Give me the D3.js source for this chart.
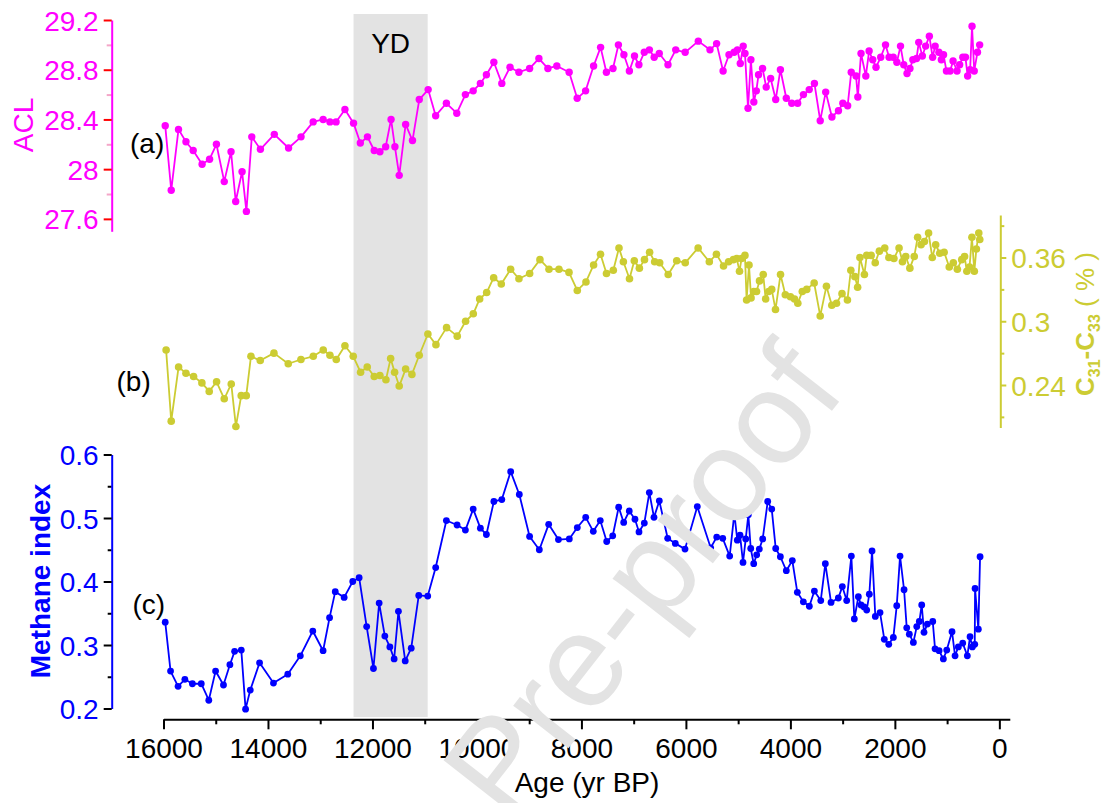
<!DOCTYPE html>
<html><head><meta charset="utf-8">
<script src="https://cdn.jsdelivr.net/npm/d3@7"></script>
<style>
html,body{margin:0;padding:0;background:#fff;}
svg text{font-family:Arial,"Liberation Sans",sans-serif;}
</style></head>
<body>
<svg id="chart" width="1112" height="803"></svg>
<script>
// ---------- DATA ----------
const aclAge = [15967,15852,15713,15570,15432,15261,15118,14987,14837,14707,14618,14496,14413,14310,14145,13879,13606,13367,13135,12944,12814,12697,12527,12362,12232,12096,11966,11857,11747,11644,11570,11488,11365,11234,11104,10934,10790,10585,10386,10221,10072,9934,9819,9676,9524,9367,9197,8992,8814,8642,8471,8235,8081,7920,7767,7633,7522,7396,7292,7187,7082,6984,6900,6797,6699,6607,6510,6343,6195,6014,5763,5539,5412,5288,5175,5077,5014,4959,4903,4869,4811,4756,4700,4652,4610,4533,4463,4378,4281,4191,4078,3974,3861,3750,3639,3540,3429,3324,3205,3080,2996,2904,2835,2743,2709,2648,2556,2493,2424,2361,2271,2179,2110,2031,1962,1892,1830,1767,1711,1656,1585,1543,1474,1411,1340,1277,1229,1158,1110,1068,1013,942,886,810,760,699,649,607,559,523,481,419,377];
const aclValue = [28.35,27.83,28.32,28.22,28.15,28.04,28.08,28.20,27.90,28.14,27.74,27.98,27.66,28.26,28.16,28.28,28.17,28.26,28.38,28.40,28.38,28.38,28.48,28.37,28.21,28.26,28.15,28.14,28.18,28.40,28.18,27.95,28.36,28.23,28.56,28.64,28.43,28.53,28.45,28.60,28.63,28.69,28.76,28.86,28.69,28.82,28.78,28.81,28.89,28.81,28.83,28.78,28.57,28.63,28.83,28.98,28.78,28.81,29.00,28.92,28.79,28.91,28.84,28.94,28.96,28.90,28.93,28.84,28.96,28.94,29.03,28.96,29.01,28.79,28.92,28.94,28.96,28.85,28.99,28.93,28.49,28.88,28.54,28.63,28.76,28.81,28.66,28.73,28.56,28.80,28.57,28.53,28.53,28.60,28.64,28.69,28.39,28.62,28.42,28.47,28.53,28.51,28.78,28.75,28.58,28.93,28.75,28.95,28.88,28.82,28.90,29.00,28.90,28.90,28.86,28.99,28.84,28.77,28.81,28.88,28.89,29.02,28.91,28.99,29.07,28.90,28.99,28.94,28.88,28.92,28.79,28.79,28.87,28.79,28.84,28.90,28.90,28.75,28.80,29.15,28.79,28.94,29.00];

const cAge = [15950,15852,15711,15570,15424,15265,15125,14984,14837,14703,14614,14512,14416,14326,14148,13886,13612,13369,13133,12942,12814,12693,12527,12368,12227,12100,11966,11857,11742,11652,11576,11488,11365,11245,11105,10939,10785,10581,10377,10217,10070,9948,9814,9680,9534,9355,9196,8991,8794,8621,8430,8238,8079,7913,7767,7635,7520,7390,7281,7197,7080,6988,6891,6793,6695,6598,6502,6339,6176,6013,5766,5552,5416,5280,5183,5091,5026,4974,4935,4870,4838,4792,4753,4702,4648,4591,4520,4474,4415,4357,4285,4189,4097,3999,3921,3858,3772,3687,3545,3429,3310,3207,3117,3012,2908,2843,2765,2713,2669,2583,2539,2454,2376,2297,2194,2115,2018,1920,1855,1792,1713,1629,1564,1499,1434,1355,1284,1219,1141,1057,959,881,804,720,666,622,571,525,479,440,394,375];
const cValue = [0.273,0.206,0.257,0.251,0.248,0.242,0.234,0.243,0.227,0.241,0.201,0.230,0.230,0.267,0.263,0.270,0.260,0.264,0.267,0.273,0.268,0.264,0.277,0.267,0.252,0.257,0.248,0.249,0.245,0.265,0.252,0.239,0.255,0.250,0.268,0.288,0.278,0.294,0.286,0.300,0.307,0.321,0.327,0.341,0.335,0.349,0.340,0.345,0.358,0.349,0.349,0.346,0.329,0.337,0.353,0.363,0.345,0.348,0.369,0.356,0.340,0.357,0.350,0.358,0.365,0.356,0.355,0.344,0.357,0.355,0.369,0.356,0.363,0.352,0.356,0.358,0.359,0.347,0.359,0.362,0.320,0.353,0.322,0.328,0.328,0.338,0.344,0.321,0.328,0.330,0.311,0.344,0.325,0.323,0.321,0.317,0.328,0.330,0.336,0.305,0.333,0.315,0.317,0.326,0.320,0.348,0.342,0.332,0.360,0.344,0.362,0.362,0.355,0.366,0.369,0.360,0.359,0.369,0.356,0.361,0.350,0.361,0.379,0.372,0.375,0.383,0.360,0.372,0.364,0.365,0.351,0.355,0.349,0.358,0.361,0.347,0.351,0.379,0.347,0.368,0.383,0.377];

const mAge = [15967,15865,15721,15591,15447,15277,15133,15003,14852,14729,14639,14511,14429,14339,14161,13895,13621,13381,13142,12945,12821,12712,12542,12377,12255,12111,11981,11872,11763,11667,11585,11503,11373,11258,11114,10942,10790,10585,10380,10221,10072,9934,9819,9676,9524,9354,9189,8992,8806,8627,8440,8232,8079,7918,7773,7639,7516,7401,7287,7191,7084,6975,6898,6796,6700,6611,6509,6349,6203,6017,5782,5526,5410,5295,5162,5073,5016,4964,4907,4855,4805,4759,4702,4645,4595,4530,4434,4357,4281,4192,4078,3963,3867,3752,3637,3541,3419,3331,3222,3082,3006,2922,2833,2776,2699,2648,2590,2539,2489,2437,2374,2284,2202,2117,2029,1964,1901,1824,1773,1723,1646,1581,1532,1486,1442,1378,1275,1231,1154,1072,1007,906,848,785,701,613,561,517,471,465,402,369];
const mValue = [0.336,0.259,0.235,0.246,0.239,0.239,0.213,0.259,0.237,0.269,0.290,0.292,0.199,0.229,0.272,0.240,0.254,0.283,0.322,0.291,0.343,0.384,0.375,0.400,0.406,0.329,0.263,0.366,0.314,0.297,0.278,0.353,0.275,0.295,0.378,0.377,0.422,0.496,0.489,0.481,0.514,0.484,0.474,0.526,0.529,0.573,0.537,0.471,0.450,0.490,0.466,0.467,0.485,0.501,0.479,0.496,0.463,0.472,0.517,0.493,0.511,0.498,0.478,0.492,0.540,0.501,0.527,0.468,0.460,0.451,0.518,0.453,0.470,0.468,0.440,0.507,0.465,0.473,0.430,0.467,0.505,0.452,0.428,0.442,0.451,0.467,0.526,0.514,0.452,0.439,0.417,0.433,0.383,0.368,0.361,0.385,0.370,0.428,0.367,0.374,0.392,0.370,0.440,0.341,0.376,0.363,0.360,0.355,0.380,0.448,0.345,0.351,0.309,0.301,0.312,0.362,0.440,0.387,0.327,0.317,0.304,0.329,0.337,0.363,0.320,0.333,0.337,0.294,0.291,0.278,0.292,0.321,0.283,0.297,0.303,0.283,0.313,0.297,0.301,0.389,0.325,0.439];

const ydPeriod = [12362, 10943];
const ageTicksMajor = [16000,14000,12000,10000,8000,6000,4000,2000,0];
const ageTicksMinor = [15000,13000,11000,9000,7000,5000,3000,1000];
const aclTicksMajor = [27.6,28,28.4,28.8,29.2];
const aclTicksMinor = [27.8,28.2,28.6,29.0];
const cTicksMajor = [0.24,0.3,0.36];
const cTicksMinor = [0.21,0.27,0.33,0.39];
const mTicksMajor = [0.2,0.3,0.4,0.5,0.6];
const mTicksMinor = [0.25,0.35,0.45,0.55];

// ---------- SETUP ----------
const svg = d3.select("#chart");
const MAG = "#ff00ff", YEL = "#cccc33", BLU = "#0000ff";
const FS = 28;

const x = d3.scaleLinear().domain([16000, -200]).range([163.5, 1009.8]);
const yA = d3.scaleLinear().domain([27.5, 29.2]).range([231.3, 20]);
const yB = d3.scaleLinear().domain([0.2, 0.4]).range([427.5, 215]);
const yC = d3.scaleLinear().domain([0.2, 0.6]).range([708.5, 454.5]);
const xAxisY = 719.3;

// YD band
svg.append("rect")
  .attr("x", x(ydPeriod[0])).attr("width", x(ydPeriod[1]) - x(ydPeriod[0]))
  .attr("y", 14).attr("height", 717 - 14)
  .attr("fill", "#e3e3e3");
svg.append("text").attr("x", (x(ydPeriod[0]) + x(ydPeriod[1]))/2).attr("y", 53)
  .attr("text-anchor","middle").attr("font-size", FS).attr("fill","#000").text("YD");

function styleAxis(g, lineColor, tickColor, textColor, lw) {
  g.select(".domain").attr("stroke", lineColor).attr("stroke-width", lw);
  g.selectAll(".tick line").attr("stroke", tickColor).attr("stroke-width", lw);
  g.selectAll(".tick text").attr("fill", textColor).attr("font-size", FS)
   .attr("font-family", 'Arial,"Liberation Sans",sans-serif');
}

// ---- Panel A axis (left)
const axA = svg.append("g").attr("transform", "translate(111.7,0)");
axA.call(d3.axisLeft(yA).tickValues(aclTicksMinor).tickSize(5).tickFormat(""));
axA.selectAll(".tick line").attr("stroke", "#f4a6c8").attr("stroke-width", 2);
axA.select(".domain").remove();
const axA2 = svg.append("g").attr("transform", "translate(111.7,0)");
axA2.call(d3.axisLeft(yA).tickValues(aclTicksMajor).tickSize(8).tickSizeOuter(0).tickPadding(5).tickFormat(d3.format("")));
styleAxis(axA2, MAG, "#ff0000", MAG, 2);
axA2.selectAll(".tick text").attr("dy", "0.36em");

svg.append("text").attr("transform", "translate(33,125) rotate(-90)")
  .attr("text-anchor","middle").attr("font-size", FS).attr("fill", MAG).text("ACL");

// ---- Panel B axis (right)
const axB = svg.append("g").attr("transform", "translate(1000.3,0)");
axB.call(d3.axisRight(yB).tickValues(cTicksMinor).tickSize(4).tickFormat(""));
axB.selectAll(".tick line").attr("stroke", YEL).attr("stroke-width", 2);
axB.select(".domain").remove();
const axB2 = svg.append("g").attr("transform", "translate(1000.3,0)");
axB2.call(d3.axisRight(yB).tickValues(cTicksMajor).tickSize(6).tickSizeOuter(0).tickPadding(5).tickFormat(d3.format("")));
styleAxis(axB2, YEL, YEL, YEL, 2);
axB2.selectAll(".tick text").attr("dy", "0.36em");

const tB = svg.append("text").attr("transform", "translate(1094,324) rotate(-90)")
  .attr("text-anchor","middle").attr("font-size", 26).attr("fill", YEL);
tB.append("tspan").attr("font-weight","bold").text("C");
tB.append("tspan").attr("font-weight","bold").attr("font-size",16).attr("dy",6).text("31");
tB.append("tspan").attr("font-weight","bold").attr("dy",-6).text("-C");
tB.append("tspan").attr("font-weight","bold").attr("font-size",16).attr("dy",6).text("33");
tB.append("tspan").attr("dy",-6).text(" ( % )");

// ---- Panel C axis (left)
const axC = svg.append("g").attr("transform", "translate(111.7,0)");
axC.call(d3.axisLeft(yC).tickValues(mTicksMinor).tickSize(4).tickFormat(""));
axC.selectAll(".tick line").attr("stroke", "#000").attr("stroke-width", 2);
axC.select(".domain").remove();
const axC2 = svg.append("g").attr("transform", "translate(111.7,0)");
axC2.call(d3.axisLeft(yC).tickValues(mTicksMajor).tickSize(8).tickSizeOuter(0).tickPadding(5).tickFormat(d3.format("")));
styleAxis(axC2, BLU, "#000", BLU, 2);
axC2.selectAll(".tick text").attr("dy", "0.36em");

svg.append("text").attr("transform", "translate(50,581) rotate(-90)")
  .attr("text-anchor","middle").attr("font-size", FS).attr("font-weight","bold").attr("fill", BLU).text("Methane index");

// ---- X axis
const axX = svg.append("g").attr("transform", `translate(0,${xAxisY})`);
axX.call(d3.axisBottom(x).tickValues(ageTicksMinor).tickSize(5).tickFormat(""));
axX.selectAll(".tick line").attr("stroke", "#000").attr("stroke-width", 2);
axX.select(".domain").remove();
const axX2 = svg.append("g").attr("transform", `translate(0,${xAxisY})`);
axX2.call(d3.axisBottom(x).tickValues(ageTicksMajor).tickSize(10).tickSizeOuter(0).tickPadding(9).tickFormat(d3.format("")));
styleAxis(axX2, "#000", "#000", "#000", 2);

svg.append("text").attr("x", 587).attr("y", 792).attr("text-anchor","middle")
  .attr("font-size", FS).attr("fill","#000").text("Age (yr BP)");

// ---- Series
function series(ages, vals, ys, color, r, lw) {
  const pts = ages.map((a,i)=>[a, vals[i]]);
  svg.append("path").datum(pts)
    .attr("fill","none").attr("stroke", color).attr("stroke-width", lw).attr("stroke-linejoin","round")
    .attr("d", d3.line().x(d=>x(d[0])).y(d=>ys(d[1])));
  svg.append("g").selectAll("circle").data(pts).join("circle")
    .attr("cx", d=>x(d[0])).attr("cy", d=>ys(d[1])).attr("r", r).attr("fill", color);
}
series(aclAge, aclValue, yA, MAG, 3.7, 1.8);
series(cAge, cValue, yB, YEL, 3.8, 1.8);
series(mAge, mValue, yC, BLU, 3.4, 1.8);

// ---- Panel labels
svg.append("text").attr("x",130).attr("y",153).attr("font-size",FS).attr("fill","#000").text("(a)");
svg.append("text").attr("x",116.5).attr("y",390.5).attr("font-size",FS).attr("fill","#000").text("(b)");
svg.append("text").attr("x",132.5).attr("y",614).attr("font-size",FS).attr("fill","#000").text("(c)");

// ---- Watermark
svg.append("text").attr("transform","translate(678,608) rotate(-52)")
  .attr("text-anchor","middle").attr("font-size",132).attr("fill","#e3e3e3").text("Pre-proof");
</script>
</body></html>
